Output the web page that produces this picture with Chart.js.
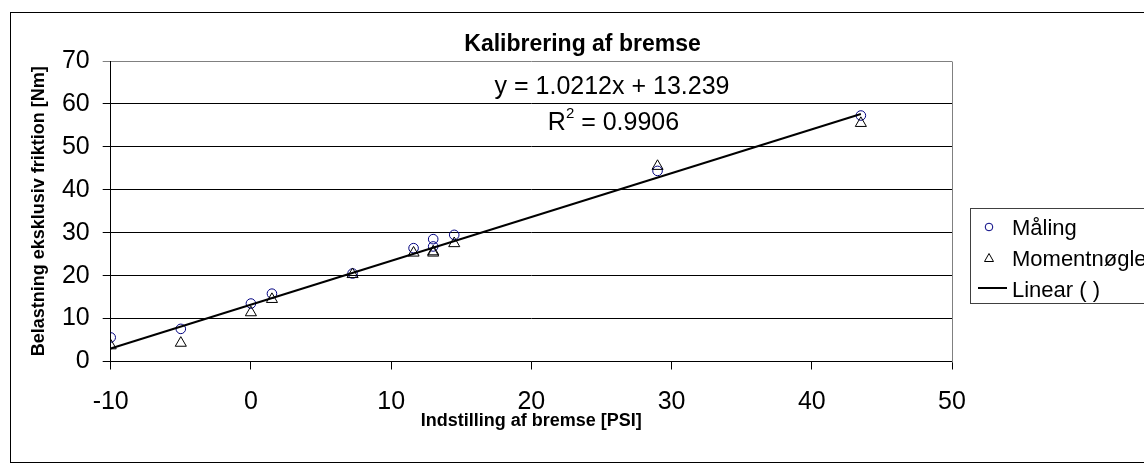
<!DOCTYPE html>
<html>
<head>
<meta charset="utf-8">
<title>Kalibrering af bremse</title>
<script src="https://cdn.jsdelivr.net/npm/chart.js@4.4.1/dist/chart.umd.min.js"></script>
<style>
    body { margin: 0; background: #fff; }
    #wrap { position: relative; width: 1144px; height: 469px; overflow: hidden; }
</style>
</head>
<body>
<div id="wrap"><canvas id="bremseChart" width="1144" height="469"></canvas></div>
<script>
// indstilling [PSI] og maalte belastninger [Nm]
const psi = [-10, -5, 0, 1.5, 7.25, 11.6, 13, 13, 14.5, 29, 43.5];
const maaling = [5.6, 7.6, 13.5, 15.8, 20.5, 26.4, 28.5, 26.8, 29.5, 44.4, 57.3];
const momentnoegle = [3.7, 4.3, 11.4, 14.5, 20.3, 25.3, 25.3, 25.6, 27.5, 45.5, 55.5];

// trendlinje y = 1.0212x + 13.239, endepunkter
const trendX = [-10, 43.5];
const trendY = [3.03, 57.66];

const xTicks = [-10, 0, 10, 20, 30, 40, 50];
const yTicks = [0, 10, 20, 30, 40, 50, 60, 70];

const legendLabels = ['Måling', 'Momentnøgle', 'Linear ( )'];

function toPoints(xs, ys) {
    return xs.map((x, i) => ({ x: x, y: ys[i] }));
}

const FONT = '"Liberation Sans", Arial, sans-serif';

// tekster, rammer og forklaring tegnes direkte paa canvas
const decorations = {
    id: 'decorations',
    beforeDatasetsDraw(chart) {
        const ctx = chart.ctx;
        const a = chart.chartArea;
        ctx.save();
        ctx.strokeStyle = '#808080';
        ctx.lineWidth = 1;
        ctx.beginPath();
        ctx.moveTo(Math.round(a.right) + 0.5, Math.round(a.top) + 0.5);
        ctx.lineTo(Math.round(a.right) + 0.5, Math.round(a.bottom) + 0.5);
        ctx.stroke();
        ctx.restore();
    },
    afterDraw(chart) {
        const ctx = chart.ctx;
        ctx.save();

        // ydre ramme
        ctx.strokeStyle = '#000';
        ctx.lineWidth = 1;
        ctx.strokeRect(10.5, 12.5, 1150, 450);

        // titel
        ctx.fillStyle = '#000';
        ctx.textAlign = 'center';
        ctx.textBaseline = 'alphabetic';
        ctx.font = 'bold 23px ' + FONT;
        ctx.fillText('Kalibrering af bremse', 582.5, 51);

        // ligning
        ctx.font = '25px ' + FONT;
        ctx.fillText('y = 1.0212x + 13.239', 612, 93.5);

        // R^2 med haevet 2-tal
        const rPart = 'R';
        const rest = ' = 0.9906';
        ctx.font = '25px ' + FONT;
        const wR = ctx.measureText(rPart).width;
        const wRest = ctx.measureText(rest).width;
        ctx.font = '15px ' + FONT;
        const wSup = ctx.measureText('2').width;
        let x0 = 613.5 - (wR + wSup + wRest) / 2;
        ctx.textAlign = 'left';
        ctx.font = '25px ' + FONT;
        ctx.fillText(rPart, x0, 130);
        ctx.font = '15px ' + FONT;
        ctx.fillText('2', x0 + wR, 118);
        ctx.font = '25px ' + FONT;
        ctx.fillText(rest, x0 + wR + wSup, 130);

        // forklaring
        ctx.strokeStyle = '#404040';
        ctx.lineWidth = 1;
        ctx.strokeRect(970.5, 208.5, 200, 95);

        ctx.font = '22px ' + FONT;
        ctx.fillStyle = '#000';
        ctx.textAlign = 'left';
        const rows = [235, 266, 297];
        legendLabels.forEach((lbl, i) => ctx.fillText(lbl, 1012, rows[i]));

        // markoerer
        ctx.strokeStyle = '#000080';
        ctx.beginPath();
        ctx.arc(989, 227, 3.8, 0, Math.PI * 2);
        ctx.stroke();

        ctx.strokeStyle = '#000';
        ctx.beginPath();
        ctx.moveTo(989, 253.5);
        ctx.lineTo(993.5, 261.5);
        ctx.lineTo(984.5, 261.5);
        ctx.closePath();
        ctx.stroke();

        ctx.lineWidth = 2;
        ctx.beginPath();
        ctx.moveTo(978, 288);
        ctx.lineTo(1007, 288);
        ctx.stroke();

        ctx.restore();
    }
};

const ctxBremse = document.getElementById('bremseChart').getContext('2d');
const bremseChart = new Chart(ctxBremse, {
    type: 'scatter',
    data: {
        datasets: [{
            label: 'Linear ( )',
            data: toPoints(trendX, trendY),
            showLine: true,
            borderColor: '#000',
            borderWidth: 2,
            pointRadius: 0,
            order: 0
        }, {
            label: 'Måling',
            data: toPoints(psi, maaling),
            pointStyle: 'circle',
            pointRadius: 4.8,
            borderColor: '#000080',
            backgroundColor: 'rgba(0,0,0,0)',
            borderWidth: 1,
            order: 2
        }, {
            label: 'Momentnøgle',
            data: toPoints(psi, momentnoegle),
            pointStyle: 'triangle',
            pointRadius: 6.4,
            borderColor: '#000',
            backgroundColor: 'rgba(0,0,0,0)',
            borderWidth: 1,
            order: 1
        }]
    },
    options: {
        responsive: false,
        animation: false,
        layout: {
            padding: { left: 0, top: 61, right: 192, bottom: 0 }
        },
        plugins: {
            legend: { display: false },
            title: { display: false },
            tooltip: { enabled: false }
        },
        scales: {
            x: {
                type: 'linear',
                min: -10,
                max: 50,
                afterFit(scale) { scale.height = 107.5; },
                afterBuildTicks(scale) { scale.ticks = xTicks.map(v => ({ value: v })); },
                grid: {
                    drawOnChartArea: false,
                    drawTicks: true,
                    tickLength: 8,
                    color: '#000'
                },
                border: { display: true, color: '#000', width: 1 },
                ticks: {
                    color: '#000',
                    padding: 18,
                    maxRotation: 0,
                    font: { family: FONT, size: 25 }
                },
                title: {
                    display: true,
                    text: 'Indstilling af bremse [PSI]',
                    color: '#000',
                    font: { family: FONT, size: 18, weight: 'bold' },
                    padding: { top: 0, bottom: 37 }
                }
            },
            y: {
                type: 'linear',
                min: 0,
                max: 70,
                afterFit(scale) { scale.width = 110.7; },
                afterBuildTicks(scale) { scale.ticks = yTicks.map(v => ({ value: v })); },
                grid: {
                    drawTicks: true,
                    tickLength: 8,
                    color: (c) => (c.tick && c.tick.value === 70) ? '#808080' : '#000'
                },
                border: { display: true, color: '#000', width: 1 },
                ticks: {
                    color: '#000',
                    padding: 13,
                    font: { family: FONT, size: 25 }
                },
                title: {
                    display: true,
                    text: 'Belastning eksklusiv friktion [Nm]',
                    color: '#000',
                    font: { family: FONT, size: 18, weight: 'bold' },
                    padding: { top: 28, bottom: 0 }
                }
            }
        }
    },
    plugins: [decorations]
});
</script>
</body>
</html>
